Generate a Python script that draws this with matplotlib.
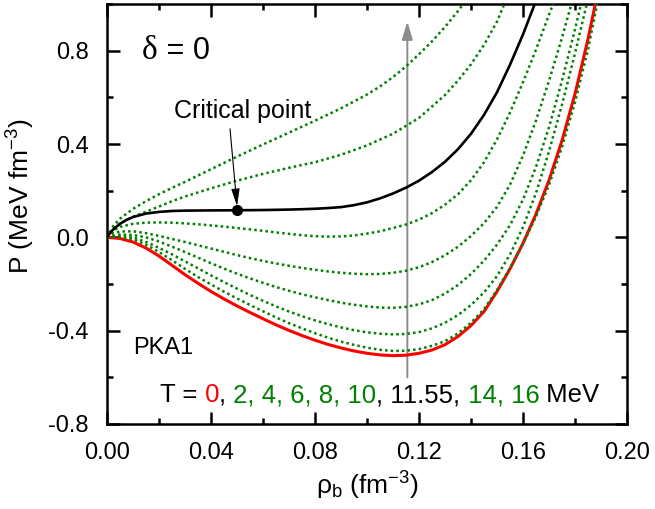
import matplotlib
matplotlib.use("Agg")
import matplotlib.pyplot as plt
from matplotlib.ticker import FixedLocator, FixedFormatter, MultipleLocator

plt.rcParams['font.family'] = ['Liberation Sans', 'DejaVu Sans']
plt.rcParams['mathtext.fontset'] = 'custom'
plt.rcParams['mathtext.rm'] = 'Liberation Sans'
plt.rcParams['mathtext.it'] = 'Liberation Sans:italic'

# ---- pressure isotherms P(rho_b) for PKA1, symmetric matter ----
rho_T0 = [0, .005, .01, .015, .02, .025, .03, .035, .04, .045, .05, .055, .06, .065, .07,
          .075, .08, .085, .09, .095, .10, .105, .11, .115, .12, .125, .13, .135, .14,
          .145, .15, .155, .16, .165, .17, .175, .18, .185, .1878]
P_T0 = [0, -.005, -.02, -.046, -.08, -.12, -.16, -.197, -.232, -.264, -.294, -.322, -.349,
        -.375, -.399, -.421, -.441, -.459, -.474, -.487, -.497, -.504, -.507, -.505, -.497,
        -.483, -.46, -.425, -.378, -.318, -.232, -.135, -.025, .10, .245, .415, .615, .85,
        1.0]

rho_T2 = [0, .005, .01, .015, .02, .025, .03, .035, .04, .045, .05, .055, .06, .065, .07,
          .075, .08, .085, .09, .095, .10, .105, .11, .115, .12, .125, .13, .135, .14,
          .145, .15, .155, .16, .165, .17, .175, .18, .185, .1885]
P_T2 = [0, .001, -.008, -.032, -.063, -.098, -.135, -.17, -.202, -.233, -.262, -.29, -.317,
        -.343, -.368, -.39, -.411, -.43, -.447, -.461, -.473, -.482, -.487, -.486, -.479,
        -.465, -.445, -.412, -.366, -.308, -.226, -.132, -.028, .09, .225, .387, .58, .805,
        1.0]

rho_T4 = [0, .005, .01, .015, .02, .025, .03, .035, .04, .045, .05, .055, .06, .065, .07,
          .075, .08, .085, .09, .095, .10, .105, .11, .115, .12, .125, .13, .135, .14,
          .145, .15, .155, .16, .165, .17, .175, .18, .1845]
P_T4 = [0, .008, 0, -.02, -.045, -.073, -.103, -.133, -.163, -.192, -.22, -.247, -.272,
        -.296, -.318, -.338, -.356, -.372, -.386, -.398, -.407, -.413, -.416, -.414, -.406,
        -.39, -.366, -.333, -.29, -.236, -.166, -.0735, .044, .19, .369, .569, .789, 1.0]

rho_T6 = [0, .005, .01, .015, .02, .025, .03, .035, .04, .045, .05, .055, .06, .065, .07,
          .075, .08, .085, .09, .095, .10, .105, .11, .115, .12, .125, .13, .135, .14,
          .145, .15, .155, .16, .165, .17, .175, .18, .1823]
P_T6 = [0, .012, .01, 0, -.018, -.04, -.063, -.087, -.111, -.134, -.156, -.176, -.195,
        -.213, -.229, -.244, -.257, -.269, -.28, -.289, -.296, -.301, -.302, -.298, -.287,
        -.269, -.241, -.204, -.157, -.10, -.031, .052, .162, .302, .472, .672, .892, 1.0]

rho_T8 = [0, .0025, .005, .01, .015, .02, .025, .03, .035, .04, .045, .05, .055, .06, .065,
          .07, .075, .08, .085, .09, .095, .10, .105, .11, .115, .12, .125, .13, .135, .14,
          .145, .15, .155, .16, .165, .17, .175, .1786]
P_T8 = [0, .018, .025, .026, .018, .006, -.007, -.02, -.034, -.048, -.062, -.076, -.089,
        -.101, -.112, -.122, -.131, -.139, -.146, -.152, -.156, -.158, -.157, -.152, -.143,
        -.128, -.106, -.077, -.04, .006, .061, .131, .226, .351, .501, .671, .856, 1.0]

rho_T10 = [0, .0025, .005, .01, .015, .02, .025, .03, .035, .04, .045, .05, .055, .06, .065,
           .07, .075, .08, .085, .09, .095, .10, .105, .11, .115, .12, .125, .13, .135, .14,
           .145, .15, .155, .16, .165, .17, .1716]
P_T10 = [0, .03, .045, .058, .063, .064, .063, .06, .056, .051, .046, .04, .034, .028, .021,
         .015, .009, .005, .003, .004, .008, .016, .026, .04, .055, .076, .104, .14, .185,
         .245, .322, .42, .535, .665, .805, .955, 1.0]

rho_Tc = [0, .00125, .0025, .005, .0075, .01, .015, .02, .025, .03, .04, .05, .06, .07, .075,
          .08, .085, .09, .095, .10, .105, .11, .115, .12, .125, .13, .135, .14, .145, .15,
          .155, .16, .1645]
P_Tc = [0, .02, .035, .058, .075, .087, .102, .109, .113, .1145, .1155, .116, .117, .119,
        .1205, .1225, .1255, .1295, .138, .15, .167, .188, .213, .243, .28, .324, .378, .444,
        .525, .622, .74, .87, 1.0]

rho_T14 = [0, .0025, .005, .01, .015, .02, .025, .03, .04, .05, .06, .07, .08, .09, .10,
           .11, .12, .13, .135, .14, .145, .15, .1528]
P_T14 = [0, .04, .06, .088, .11, .132, .155, .175, .21, .243, .272, .298, .322, .354, .394,
         .444, .512, .61, .672, .742, .825, .925, 1.0]

rho_T16 = [0, .0025, .005, .01, .015, .02, .025, .03, .04, .05, .06, .07, .08, .09, .10,
           .105, .11, .115, .12, .125, .13, .135, .137]
P_T16 = [0, .05, .08, .122, .155, .185, .212, .238, .292, .346, .398, .449, .50, .553, .612,
         .647, .687, .733, .785, .84, .902, .97, 1.0]

green_sets = [(rho_T2, P_T2), (rho_T4, P_T4), (rho_T6, P_T6), (rho_T8, P_T8),
              (rho_T10, P_T10), (rho_T14, P_T14), (rho_T16, P_T16)]

# critical point
rho_crit = 0.050
P_crit = 0.116

# temperature legend pieces
legend_parts = ["T =", " 0", ",", " 2, 4, 6, 8, 10", ", 11.55,", " 14, 16", " MeV"]

xticks = [0.00, 0.04, 0.08, 0.12, 0.16, 0.20]
xticklabels = ["0.00", "0.04", "0.08", "0.12", "0.16", "0.20"]
yticks = [-0.8, -0.4, 0.0, 0.4, 0.8]
yticklabels = ["-0.8", "-0.4", "0.0", "0.4", "0.8"]

GREEN = '#008000'
RED = '#ff0000'

fig = plt.figure(figsize=(6.55, 5.09), dpi=100)
ax = fig.add_axes([0.1634, 0.167, 0.7939, 0.8251])

ax.plot(rho_T0, P_T0, color=RED, lw=2.2, zorder=3)
for r, p in green_sets:
    ax.plot(r, p, color=GREEN, lw=1.8, linestyle=(0, (1, 1.25)), zorder=4)
ax.plot(rho_Tc, P_Tc, color='black', lw=1.9, zorder=5)
ax.plot([rho_crit], [P_crit], 'o', color='black', ms=7, zorder=6)

# heating direction
ax.annotate('', xy=(0.1155, 0.925), xytext=(0.1155, -0.60),
            arrowprops=dict(arrowstyle='-|>,head_length=0.6,head_width=0.18',
                            color='#8c8c8c', lw=1.4, mutation_scale=18,
                            shrinkA=0, shrinkB=0), zorder=2)

# critical point label
ax.annotate('', xy=(rho_crit, P_crit + 0.018), xytext=(0.0473, 0.465),
            arrowprops=dict(arrowstyle='-|>,head_length=0.7,head_width=0.17',
                            color='black', lw=0.8, mutation_scale=15,
                            shrinkA=0, shrinkB=0), zorder=6)
ax.text(0.0521, 0.511, 'Critical point', fontsize=18, ha='center', va='baseline')

# delta = 0
t_d = ax.text(0.0134, 0.763, 'δ', fontsize=24, ha='left', va='baseline',
              family=['Liberation Serif', 'DejaVu Serif'])
ax.annotate(' = 0', xy=(1, 0), xycoords=t_d, fontsize=22, ha='left', va='bottom')

ax.text(0.0101, -0.498, 'PKA1', fontsize=17, ha='left', va='baseline')

colors = ['black', RED, 'black', GREEN, 'black', GREEN, 'black']
prev = ax.text(0.0205, -0.707, legend_parts[0], fontsize=18.5, color=colors[0],
               ha='left', va='baseline')
for s, c in zip(legend_parts[1:], colors[1:]):
    prev = ax.annotate(s, xy=(1, 0), xycoords=prev, fontsize=18.5, color=c,
                       ha='left', va='bottom')

ax.set_xlim(0.0, 0.20)
ax.set_ylim(-0.8, 1.0)
ax.xaxis.set_major_locator(FixedLocator(xticks))
ax.xaxis.set_major_formatter(FixedFormatter(xticklabels))
ax.yaxis.set_major_locator(FixedLocator(yticks))
ax.yaxis.set_major_formatter(FixedFormatter(yticklabels))
ax.xaxis.set_minor_locator(MultipleLocator(0.02))
ax.yaxis.set_minor_locator(MultipleLocator(0.2))
ax.tick_params(which='both', direction='in', top=True, right=True, width=1.8,
               labelsize=17, pad=13)
ax.tick_params(which='major', length=9)
ax.tick_params(which='minor', length=4.5)
for sp in ax.spines.values():
    sp.set_linewidth(1.8)

ax.set_xlabel(r'ρ$_\mathregular{b}$ (fm$^\mathregular{-3}$)', fontsize=19, labelpad=4)
ax.set_ylabel(r'P (MeV fm$^\mathregular{-3}$)', fontsize=19)
ax.yaxis.set_label_coords(-0.1346, 0.543)

fig.savefig('out.png', dpi=100)
